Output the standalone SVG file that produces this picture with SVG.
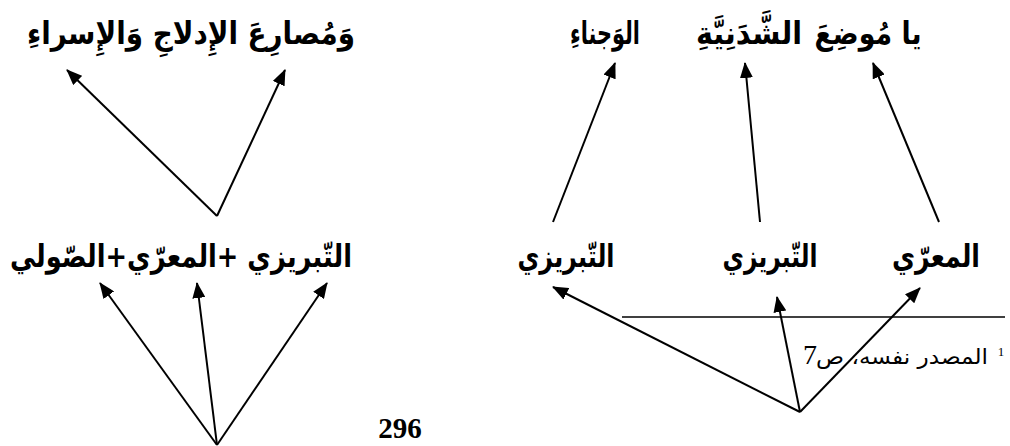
<svg xmlns="http://www.w3.org/2000/svg" width="1010" height="446" viewBox="0 0 1010 446">
<style>
.ar{font-family:"DejaVu Sans",sans-serif;font-weight:bold;font-size:31px;fill:#000;text-anchor:middle}
.fn{font-family:"DejaVu Sans",sans-serif;font-size:21px;fill:#000}
.num{font-family:"Liberation Serif",serif;font-weight:bold;font-size:29px;fill:#000}
.c line{stroke:#000;stroke-width:2;fill:none}
.arr{marker-end:url(#ah)}
</style>
<defs>
<marker id="ah" viewBox="0 0 16 13" refX="15" refY="6.5" markerWidth="16" markerHeight="13" markerUnits="userSpaceOnUse" orient="auto">
<path d="M0,0 L16,6.5 L0,13 z" fill="#000"/>
</marker>
</defs>
<rect width="1010" height="446" fill="#fff"/>
<g id="verse-left"><text class="ar" x="191" y="44" direction="rtl" textLength="328" lengthAdjust="spacingAndGlyphs">وَمُصارِعَ الإِدلاجِ وَالإِسراءِ</text></g>
<g id="verse-right">
<text class="ar" x="868" y="44" direction="rtl" textLength="107" lengthAdjust="spacingAndGlyphs">يا مُوضِعَ</text>
<text class="ar" x="749" y="44" direction="rtl" textLength="106" lengthAdjust="spacingAndGlyphs">الشَّدَنِيَّةِ</text>
<text class="ar" x="605" y="44" direction="rtl" textLength="70" lengthAdjust="spacingAndGlyphs">الوَجناءِ</text>
</g>
<g id="combined"><text class="ar" x="181" y="267" direction="rtl" textLength="342" lengthAdjust="spacingAndGlyphs">التّبريزي +المعرّي+الصّولي</text></g>
<g id="tabrizi1"><text class="ar" x="566" y="267" direction="rtl" textLength="97" lengthAdjust="spacingAndGlyphs">التّبريزي</text></g>
<g id="tabrizi2"><text class="ar" x="770" y="267" direction="rtl" textLength="95" lengthAdjust="spacingAndGlyphs">التّبريزي</text></g>
<g id="maarri"><text class="ar" x="936" y="267" direction="rtl" textLength="88" lengthAdjust="spacingAndGlyphs">المعرّي</text></g>
<g id="footnote">
<line x1="622" y1="317" x2="1005" y2="317" stroke="#000" stroke-width="1.5"/>
<text x="1001" y="356" font-family="Liberation Serif" font-size="13" text-anchor="middle">1</text>
<text class="fn" x="902" y="364" text-anchor="middle" direction="rtl" textLength="172" lengthAdjust="spacingAndGlyphs">المصدر نفسه، ص</text>
<text x="810" y="364" font-family="Liberation Serif" font-size="28" text-anchor="middle">7</text>
</g>
<g id="page-number"><text class="num" x="400" y="438" text-anchor="middle">296</text></g>
<g class="c" id="connectors">
<line class="arr" x1="217" y1="216" x2="67" y2="70"/>
<line class="arr" x1="217" y1="216" x2="285" y2="70"/>
<line class="arr" x1="217" y1="445" x2="100" y2="283"/>
<line class="arr" x1="217" y1="445" x2="197" y2="283"/>
<line class="arr" x1="217" y1="445" x2="327" y2="283"/>
<line class="arr" x1="553" y1="222" x2="615" y2="63"/>
<line class="arr" x1="760" y1="222" x2="745" y2="63"/>
<line class="arr" x1="939" y1="222" x2="873" y2="63"/>
<line class="arr" x1="800" y1="412" x2="553" y2="287"/>
<line class="arr" x1="800" y1="412" x2="777" y2="297"/>
<line class="arr" x1="800" y1="412" x2="920" y2="288"/>
</g>
</svg>
